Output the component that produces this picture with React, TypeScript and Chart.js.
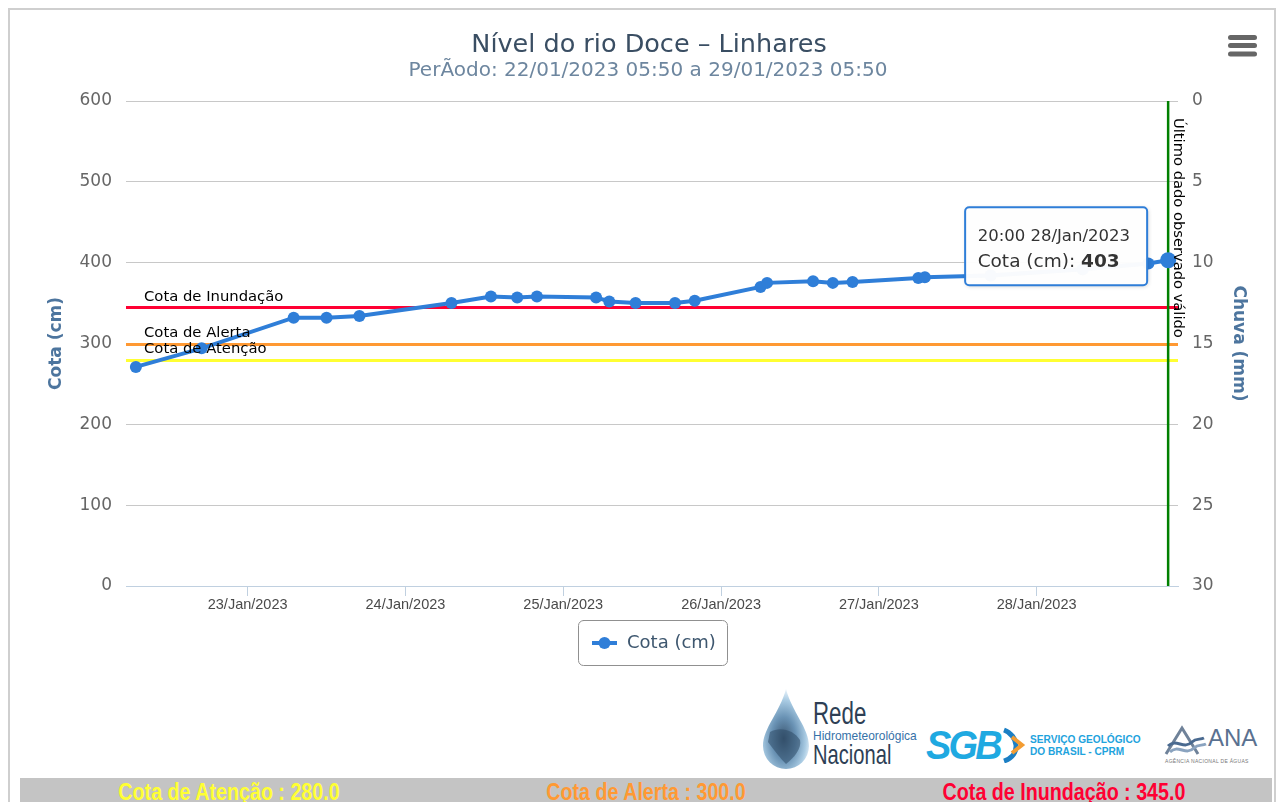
import React, { useEffect, useRef } from "react";
import { Chart, registerables } from "chart.js";

Chart.register(...registerables);

// ---- data (hours counted from 22/Jan/2023 00:00) ----
const obsHours = [7, 17, 31, 36, 41, 55, 61, 65, 68, 77, 79, 83, 89, 92, 102, 103, 110, 113, 116, 126, 127, 137, 151, 161, 164];
const cotaCm = [271, 294, 332, 332, 334, 350, 358, 357, 358, 357, 352, 350, 350, 353, 370, 375, 377, 375, 376, 381, 382, 384, 392, 399, 403];
const dayTickHours = [24, 48, 72, 96, 120, 144];
const dayTickLabels = ["23/Jan/2023", "24/Jan/2023", "25/Jan/2023", "26/Jan/2023", "27/Jan/2023", "28/Jan/2023"];
const cotaTicks = [0, 100, 200, 300, 400, 500, 600];
const chuvaTicks = [0, 5, 10, 15, 20, 25, 30];
const thresholdNames = ["Cota de Atenção", "Cota de Alerta", "Cota de Inundação"];
const thresholdValues = [280, 300, 345];

const THRESHOLD_COLORS = ["#FFFF33", "#FF9933", "#FF0033"];
const SERIES_COLOR = "#2f7ed8";
const FONT = '"DejaVu Sans", Verdana, sans-serif';

const TITLE = "Nível do rio Doce – Linhares";
const SUBTITLE = "PerÃodo: 22/01/2023 05:50 a 29/01/2023 05:50";

function pad2(n: number) {
  return n < 10 ? "0" + n : String(n);
}

const overlayPlugin = {
  id: "overlay",
  beforeDatasetsDraw(chart: any) {
    const { ctx, chartArea: a, scales } = chart;
    const ys = scales.y;
    const xs = scales.x;
    ctx.save();
    thresholdValues.forEach((v, i) => {
      const py = Math.round(ys.getPixelForValue(v)) + 0.5;
      ctx.strokeStyle = THRESHOLD_COLORS[i];
      ctx.lineWidth = 3;
      ctx.beginPath();
      ctx.moveTo(a.left, py);
      ctx.lineTo(a.right, py);
      ctx.stroke();
    });
    const li = obsHours.length - 1;
    const gx = xs.getPixelForValue(obsHours[li]);
    ctx.strokeStyle = "#008000";
    ctx.lineWidth = 2.5;
    ctx.beginPath();
    ctx.moveTo(gx, a.top);
    ctx.lineTo(gx, a.bottom);
    ctx.stroke();
    ctx.restore();
  },
  afterDatasetsDraw(chart: any) {
    const { ctx, chartArea: a, scales } = chart;
    const ys = scales.y;
    const xs = scales.x;
    ctx.save();
    // plot line labels
    ctx.font = "14.8px " + FONT;
    ctx.fillStyle = "#000";
    ctx.textAlign = "left";
    ctx.textBaseline = "alphabetic";
    thresholdValues.forEach((v, i) => {
      const py = ys.getPixelForValue(v);
      ctx.fillText(thresholdNames[i], a.left + 18, py - 6.5);
    });
    // vertical label
    const li = obsHours.length - 1;
    const gx = xs.getPixelForValue(obsHours[li]);
    ctx.save();
    ctx.translate(gx + 6, a.top + 17);
    ctx.rotate(Math.PI / 2);
    ctx.font = "14.7px " + FONT;
    ctx.fillText("Último dado observado válido", 0, 0);
    ctx.restore();

    // tooltip
    const px = xs.getPixelForValue(obsHours[li]);
    const py = ys.getPixelForValue(cotaCm[li]);
    const bx = px - 203;
    const by = py - 53;
    const bw = 182;
    const bh = 78;
    const r = 4;
    const drawBox = () => {
      ctx.beginPath();
      ctx.moveTo(bx + r, by);
      ctx.lineTo(bx + bw - r, by);
      ctx.arcTo(bx + bw, by, bx + bw, by + r, r);
      ctx.lineTo(bx + bw, by + bh - r);
      ctx.arcTo(bx + bw, by + bh, bx + bw - r, by + bh, r);
      ctx.lineTo(bx + r, by + bh);
      ctx.arcTo(bx, by + bh, bx, by + bh - r, r);
      ctx.lineTo(bx, by + r);
      ctx.arcTo(bx, by, bx + r, by, r);
      ctx.closePath();
    };
    ctx.save();
    ctx.shadowColor = "rgba(0,0,0,0.2)";
    ctx.shadowBlur = 4;
    ctx.shadowOffsetX = 1;
    ctx.shadowOffsetY = 1;
    drawBox();
    ctx.fillStyle = "rgba(255,255,255,0.97)";
    ctx.fill();
    ctx.restore();
    drawBox();
    ctx.strokeStyle = SERIES_COLOR;
    ctx.lineWidth = 2;
    ctx.stroke();

    const h = obsHours[li];
    const timeLabel = `${pad2(h % 24)}:00 ${22 + Math.floor(h / 24)}/Jan/2023`;
    ctx.fillStyle = "#333";
    ctx.font = "16.5px " + FONT;
    ctx.fillText(timeLabel, bx + 12.5, by + 34);
    ctx.font = "18.5px " + FONT;
    const lab = "Cota (cm): ";
    ctx.fillText(lab, bx + 12.5, by + 60);
    const w = ctx.measureText(lab).width;
    ctx.font = "bold 18.5px " + FONT;
    ctx.fillText(String(cotaCm[li]), bx + 12.5 + w, by + 60);
    ctx.restore();
  },
  afterDraw(chart: any) {
    const { ctx } = chart;
    ctx.save();
    // title & subtitle
    ctx.textAlign = "center";
    ctx.textBaseline = "alphabetic";
    ctx.fillStyle = "#3a4e63";
    ctx.font = "25.5px " + FONT;
    ctx.fillText(TITLE, 649, 52);
    ctx.fillStyle = "#6D869F";
    ctx.font = "20px " + FONT;
    ctx.fillText(SUBTITLE, 648, 76);

    // hamburger
    ctx.strokeStyle = "#666";
    ctx.lineWidth = 5;
    ctx.lineCap = "round";
    [37.5, 45.5, 54].forEach((y) => {
      ctx.beginPath();
      ctx.moveTo(1230.5, y);
      ctx.lineTo(1254.5, y);
      ctx.stroke();
    });

    // legend
    const lx = 578.5, ly = 620.5, lw = 149, lh = 45, lr = 5;
    ctx.beginPath();
    ctx.moveTo(lx + lr, ly);
    ctx.arcTo(lx + lw, ly, lx + lw, ly + lh, lr);
    ctx.arcTo(lx + lw, ly + lh, lx, ly + lh, lr);
    ctx.arcTo(lx, ly + lh, lx, ly, lr);
    ctx.arcTo(lx, ly, lx + lw, ly, lr);
    ctx.closePath();
    ctx.fillStyle = "#fff";
    ctx.fill();
    ctx.strokeStyle = "#909090";
    ctx.lineWidth = 1;
    ctx.stroke();
    ctx.lineCap = "butt";
    ctx.strokeStyle = SERIES_COLOR;
    ctx.lineWidth = 4;
    ctx.beginPath();
    ctx.moveTo(592, 643);
    ctx.lineTo(617, 643);
    ctx.stroke();
    ctx.fillStyle = SERIES_COLOR;
    ctx.beginPath();
    ctx.arc(604.5, 643, 6, 0, Math.PI * 2);
    ctx.fill();
    ctx.fillStyle = "#3E576F";
    ctx.font = "18px " + FONT;
    ctx.textAlign = "left";
    ctx.textBaseline = "middle";
    ctx.fillText("Cota (cm)", 627, 643);
    ctx.restore();
  },
};

function ChartCanvas() {
  const ref = useRef<HTMLCanvasElement | null>(null);
  useEffect(() => {
    if (!ref.current) return;
    const li = obsHours.length - 1;
    const chart = new Chart(ref.current, {
      type: "line",
      data: {
        datasets: [
          {
            label: "Cota (cm)",
            data: obsHours.map((h, i) => ({ x: h, y: cotaCm[i] })),
            borderColor: SERIES_COLOR,
            backgroundColor: SERIES_COLOR,
            borderWidth: 4,
            pointRadius: (c: any) => (c.dataIndex === li ? 8 : 6),
            pointBackgroundColor: SERIES_COLOR,
            pointBorderColor: SERIES_COLOR,
            pointBorderWidth: 0,
            tension: 0,
            xAxisID: "x",
            yAxisID: "y",
          },
        ],
      },
      options: {
        responsive: false,
        maintainAspectRatio: false,
        devicePixelRatio: 1,
        animation: false,
        events: [],
        layout: { padding: { top: 101, left: 0, right: 0, bottom: 0 } },
        plugins: {
          legend: { display: false },
          title: { display: false },
          tooltip: { enabled: false },
        },
        scales: {
          x: {
            type: "linear",
            position: "bottom",
            min: 5.5,
            max: 165.5,
            afterBuildTicks: (s: any) => {
              s.ticks = dayTickHours.map((v) => ({ value: v }));
            },
            afterFit: (s: any) => {
              s.height = 94;
            },
            ticks: {
              autoSkip: false,
              maxRotation: 0,
              color: "#4a4a4a",
              padding: 0,
              font: { family: '"Liberation Sans", Arial, sans-serif', size: 14.5 },
              callback: (v: any) => dayTickLabels[dayTickHours.indexOf(Number(v))],
            },
            grid: {
              drawOnChartArea: false,
              drawTicks: true,
              tickLength: 10,
              tickColor: "#C0D0E0",
              color: "#C0D0E0",
            },
            border: { color: "#C0D0E0", width: 1 },
          },
          y: {
            type: "linear",
            position: "left",
            min: 0,
            max: 600,
            afterBuildTicks: (s: any) => {
              s.ticks = cotaTicks.map((v) => ({ value: v }));
            },
            afterFit: (s: any) => {
              s.width = 126;
            },
            ticks: {
              color: "#666",
              padding: 14,
              font: { family: FONT, size: 17 },
            },
            grid: {
              color: (c: any) => (c.tick && c.tick.value === 0 ? "#C0D0E0" : "#C8C8C8"),
              lineWidth: 1,
              drawTicks: false,
            },
            border: { display: false },
            title: {
              display: true,
              text: "Cota (cm)",
              color: "#4d759e",
              font: { family: FONT, size: 17, weight: "bold" },
              padding: { top: 46.8, bottom: 0 },
            },
          },
          y2: {
            type: "linear",
            position: "right",
            min: 0,
            max: 30,
            reverse: true,
            afterBuildTicks: (s: any) => {
              s.ticks = chuvaTicks.map((v) => ({ value: v }));
            },
            afterFit: (s: any) => {
              s.width = 108;
            },
            ticks: {
              color: "#666",
              padding: 14,
              font: { family: FONT, size: 17 },
            },
            grid: { drawOnChartArea: false, drawTicks: false },
            border: { display: false },
            title: {
              display: true,
              text: "Chuva (mm)",
              color: "#4d759e",
              font: { family: FONT, size: 17, weight: "bold" },
              padding: { top: 37.8, bottom: 0 },
            },
          },
        },
      } as any,
      plugins: [overlayPlugin],
    });
    return () => chart.destroy();
  }, []);
  return (
    <canvas
      ref={ref}
      width={1286}
      height={680}
      style={{ position: "absolute", left: 0, top: 0, width: 1286, height: 680 }}
    />
  );
}

function Logos() {
  const narrow = (extra: any) => ({
    position: "absolute" as const,
    whiteSpace: "nowrap" as const,
    transformOrigin: "left top",
    fontFamily: '"Liberation Sans", Arial, sans-serif',
    ...extra,
  });
  return (
    <>
      {/* Rede Hidrometeorológica Nacional */}
      <svg style={{ position: "absolute", left: 760, top: 688 }} width={52} height={84}>
        <defs>
          <radialGradient id="dropg" cx="45%" cy="62%" r="60%">
            <stop offset="0%" stopColor="#3a5570" />
            <stop offset="45%" stopColor="#6a93b5" />
            <stop offset="80%" stopColor="#a9cbe3" />
            <stop offset="100%" stopColor="#e3eff8" />
          </radialGradient>
        </defs>
        <path d="M26 1 C 20 24, 3 40, 3 58 A 23 23 0 0 0 49 58 C 49 40, 32 24, 26 1 Z" fill="url(#dropg)" />
        <path d="M10 44 C 20 38, 34 42, 40 52 C 42 60, 34 70, 26 76 C 20 70, 14 62, 8 54 Z" fill="#2d4a66" opacity="0.55" />
      </svg>
      <div style={narrow({ left: 813, top: 698, fontSize: 31, color: "#2e3f55", transform: "scaleX(0.72)", lineHeight: "31px" })}>Rede</div>
      <div style={narrow({ left: 813, top: 729, fontSize: 13, color: "#3672a8", transform: "scaleX(0.92)", lineHeight: "14px" })}>Hidrometeorológica</div>
      <div style={narrow({ left: 813, top: 741, fontSize: 28, color: "#2e3f55", transform: "scaleX(0.72)", lineHeight: "28px" })}>Nacional</div>

      {/* SGB */}
      <div
        style={narrow({
          left: 926,
          top: 725,
          fontSize: 40,
          fontWeight: "bold",
          fontStyle: "italic",
          color: "#1fa9e1",
          transform: "scaleX(0.95)",
          lineHeight: "40px",
          letterSpacing: "-3px",
        })}
      >
        SGB
      </div>
      <svg style={{ position: "absolute", left: 1000, top: 727 }} width={26} height={36}>
        <path d="M4 3 C 18 8, 22 28, 4 34" stroke="#1b7fc4" strokeWidth={5} fill="none" />
        <path d="M12 10 L 22 18 L 12 26" stroke="#f39c32" strokeWidth={4} fill="none" />
      </svg>
      <div style={narrow({ left: 1030, top: 733, fontSize: 11, fontWeight: "bold", color: "#1ea3dd", transform: "scaleX(0.92)", lineHeight: "12px" })}>
        SERVIÇO GEOLÓGICO
        <br />
        DO BRASIL - CPRM
      </div>

      {/* ANA */}
      <svg style={{ position: "absolute", left: 1164, top: 724 }} width={44} height={34}>
        <path d="M2 30 L 18 4 L 34 30" stroke="#6f8299" strokeWidth={3} fill="none" />
        <path d="M4 22 C 12 14, 20 26, 28 18 C 32 14, 36 16, 40 14" stroke="#4a6a90" strokeWidth={3} fill="none" />
        <path d="M6 28 C 14 20, 22 32, 30 24 C 34 20, 38 22, 42 20" stroke="#8aa3bf" strokeWidth={3} fill="none" />
      </svg>
      <div style={narrow({ left: 1208, top: 726, fontSize: 24, color: "#5a7190", lineHeight: "24px" })}>ANA</div>
      <div style={narrow({ left: 1165, top: 758, fontSize: 5, color: "#777", lineHeight: "6px", letterSpacing: "0.3px" })}>
        AGÊNCIA NACIONAL DE ÁGUAS
      </div>
    </>
  );
}

function BottomBar() {
  const items = [
    { text: `Cota de Atenção : ${thresholdValues[0].toFixed(1)}`, color: THRESHOLD_COLORS[0], cx: 229 },
    { text: `Cota de Alerta : ${thresholdValues[1].toFixed(1)}`, color: THRESHOLD_COLORS[1], cx: 646 },
    { text: `Cota de Inundação : ${thresholdValues[2].toFixed(1)}`, color: THRESHOLD_COLORS[2], cx: 1064 },
  ];
  return (
    <div style={{ position: "absolute", left: 20, top: 778, width: 1252, height: 40, background: "#C4C4C4" }}>
      {items.map((it) => (
        <span
          key={it.text}
          style={{
            position: "absolute",
            left: it.cx - 20,
            top: 2,
            whiteSpace: "nowrap",
            fontFamily: '"Liberation Sans", Arial, sans-serif',
            fontWeight: "bold",
            fontSize: 24,
            lineHeight: "24px",
            color: it.color,
            transform: "translateX(-50%) scaleX(0.82)",
          }}
        >
          {it.text}
        </span>
      ))}
    </div>
  );
}

export default function App() {
  return (
    <div style={{ position: "fixed", left: 0, top: 0, width: 1286, height: 802, overflow: "hidden", background: "#fff" }}>
      <div
        style={{
          position: "absolute",
          left: 8,
          top: 8,
          width: 1268,
          height: 900,
          boxSizing: "border-box",
          border: "2px solid #cfcfcf",
        }}
      />
      <ChartCanvas />
      <Logos />
      <BottomBar />
    </div>
  );
}
